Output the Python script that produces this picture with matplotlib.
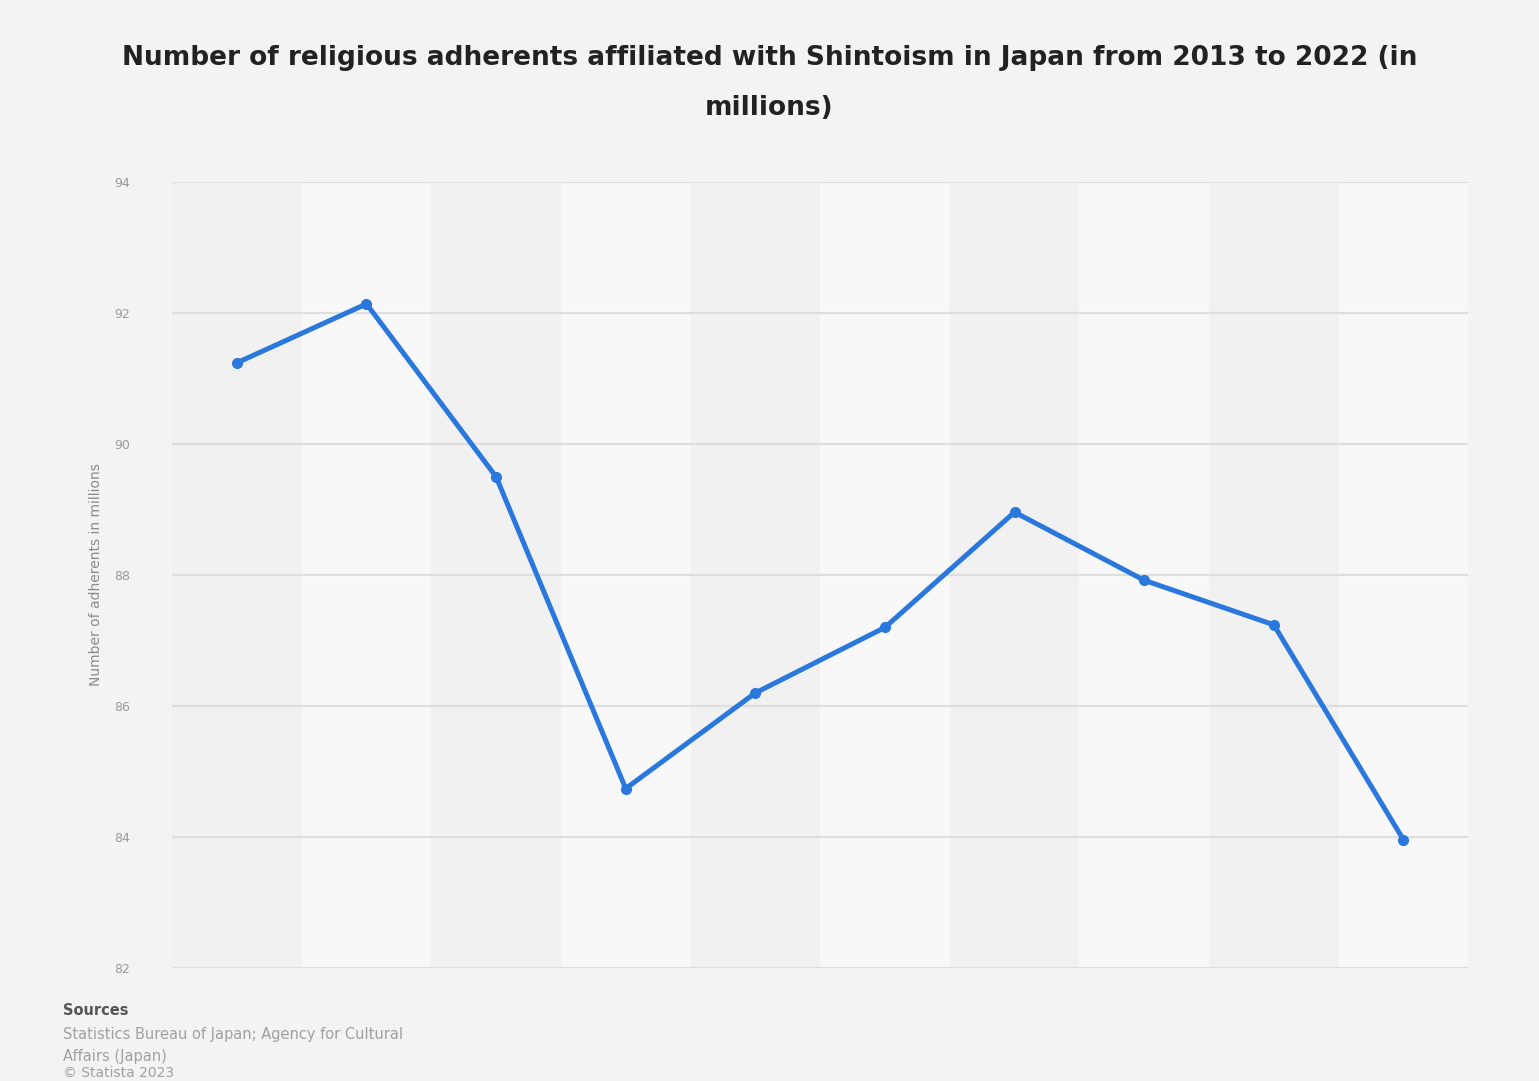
import matplotlib

matplotlib.use("Agg")

import matplotlib.pyplot as plt

# Values (millions)
years = [2013, 2014, 2015, 2016, 2017, 2018, 2019, 2020, 2021, 2022]
adherents = [91.24, 92.14, 89.5, 84.74, 86.2, 87.2, 88.96, 87.92, 87.24, 83.96]
y_ticks = [82, 84, 86, 88, 90, 92, 94]

BG = "#f3f3f3"
BAND_DARK = "#f1f1f1"
BAND_LIGHT = "#f8f8f8"
LINE = "#2a78de"

fig = plt.figure(figsize=(15.39, 10.81), dpi=100, facecolor=BG)
ax = fig.add_axes([0.1118, 0.1045, 0.8422, 0.7271])
ax.set_facecolor(BG)

xs = list(range(len(years)))
for i in xs:
    ax.axvspan(i - 0.5, i + 0.5, color=BAND_LIGHT if i % 2 else BAND_DARK, lw=0, zorder=0)

for t in y_ticks:
    ax.axhline(t, color="#dedede", lw=1.6, zorder=1)

ax.plot(xs, adherents, color=LINE, lw=3.6, marker="o", markersize=7,
        solid_joinstyle="miter", zorder=3)

ax.set_xlim(-0.5, len(years) - 0.5)
ax.set_ylim(82, 94)
ax.set_xticks([])
ax.set_yticks(y_ticks)
ax.set_yticklabels([str(t) for t in y_ticks])
ax.tick_params(axis="y", length=0, pad=30, labelsize=9, labelcolor="#9a9a9a")
for s in ax.spines.values():
    s.set_visible(False)

ax.set_ylabel("Number of adherents in millions", fontsize=10, color="#8a8a8a", labelpad=8)

fig.text(0.5, 0.946, "Number of religious adherents affiliated with Shintoism in Japan from 2013 to 2022 (in",
         ha="center", va="center", fontsize=19, fontweight="bold", color="#222222")
fig.text(0.5, 0.900, "millions)", ha="center", va="center", fontsize=19,
         fontweight="bold", color="#222222")

fig.text(0.041, 0.065, "Sources", fontsize=10.5, fontweight="bold", color="#555555", va="center")
fig.text(0.041, 0.043, "Statistics Bureau of Japan; Agency for Cultural", fontsize=10.5,
         color="#a0a0a0", va="center")
fig.text(0.041, 0.023, "Affairs (Japan)", fontsize=10.5, color="#a0a0a0", va="center")
fig.text(0.041, 0.0015, "© Statista 2023", fontsize=10, color="#a0a0a0", va="bottom")

fig.savefig("out.png", dpi=100, facecolor=BG)
